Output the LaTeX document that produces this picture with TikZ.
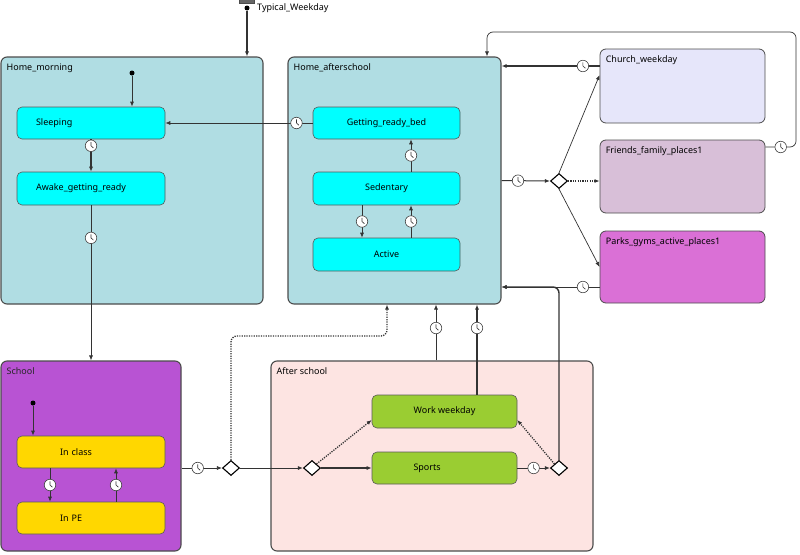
\documentclass[tikz,border=0pt]{standalone}
\usepackage{fontspec}
\setmainfont{Noto Sans}
\usepackage{xcolor}
\usepackage{tikz}
\usetikzlibrary{arrows.meta,positioning}
\usetikzlibrary{shapes.geometric}

\definecolor{homeblue}{HTML}{B0DDE3}
\definecolor{statecyan}{HTML}{00FFFF}
\definecolor{schoolpurple}{HTML}{B853D3}
\definecolor{classgold}{HTML}{FFD700}
\definecolor{afterpink}{HTML}{FDE4E2}
\definecolor{workgreen}{HTML}{9ACD32}
\definecolor{churchlav}{HTML}{E6E6FA}
\definecolor{friendthistle}{HTML}{D8BFD8}
\definecolor{parkorchid}{HTML}{DA70D6}
\definecolor{linegray}{HTML}{333333}

\tikzset{
  region/.style={draw=black!70, line width=1.1pt, rounded corners=6pt, inner sep=0pt},
  regionlabel/.style={anchor=north west, inner sep=0pt, xshift=6pt, yshift=-7pt, font=\fontsize{9}{11}\selectfont},
  state/.style={draw=black!65, line width=0.6pt, rounded corners=5pt, minimum width=148, minimum height=32, inner sep=0pt, font=\fontsize{9}{11}\selectfont},
  clock/.style={circle, draw=black!75, fill=white, line width=0.6pt, minimum size=11.5pt, inner sep=0pt, solid, sharp corners,
    path picture={\draw[-, solid, sharp corners, line width=0.6pt, draw=black!80] ([yshift=3.6pt]path picture bounding box.center) -- (path picture bounding box.center) -- ([xshift=2.4pt,yshift=-2.2pt]path picture bounding box.center);}},
  choice/.style={diamond, draw=black, line width=1.1pt, fill=white, minimum width=17pt, minimum height=15pt, inner sep=0pt},
  initdot/.style={circle, fill=black, minimum size=5pt, inner sep=0pt},
  tr/.style={draw=linegray, line width=0.7pt, -{Latex[length=5pt,width=4pt]}},
  trbold/.style={tr, line width=1.4pt},
  trdot/.style={tr, line width=1.3pt, dash pattern=on 1.2pt off 1.2pt}
}

\begin{document}
\begin{tikzpicture}[x=1pt,y=-1pt]
\useasboundingbox (0,0) rectangle (800,554);

% regions
\node[region, fill=homeblue, minimum width=262, minimum height=247, label={[regionlabel]north west:Home\_morning}] (hmorn) at (132,180.5) {};
\node[region, fill=homeblue, minimum width=213, minimum height=247, label={[regionlabel]north west:Home\_afterschool}] (ha) at (394.5,180.5) {};
\node[region, fill=churchlav, line width=0.8pt, minimum width=165, minimum height=74, label={[regionlabel]north west:Church\_weekday}] (ch) at (682.5,86) {};
\node[region, fill=friendthistle, line width=0.8pt, minimum width=165, minimum height=73, label={[regionlabel]north west:Friends\_family\_places1}] (fr) at (682.5,176.5) {};
\node[region, fill=parkorchid, line width=0.8pt, minimum width=165, minimum height=72, label={[regionlabel]north west:Parks\_gyms\_active\_places1}] (pk) at (682.5,267) {};
\node[region, fill=schoolpurple, minimum width=180, minimum height=190, label={[regionlabel, text=black!85]north west:School}] (sc) at (91,456) {};
\node[region, fill=afterpink, minimum width=322, minimum height=190, label={[regionlabel]north west:After school}] (as) at (432,456) {};

% states
\node[state, fill=statecyan, text width=110pt, align=left] (sl) at (91,123) {Sleeping};
\node[state, fill=statecyan, text width=110pt, align=left, minimum height=33] (aw) at (91,188.5) {Awake\_getting\_ready};
\node[state, fill=statecyan, minimum width=147] (gb) at (386.5,123) {Getting\_ready\_bed};
\node[state, fill=statecyan, minimum width=147, minimum height=33] (se) at (386.5,188.5) {Sedentary};
\node[state, fill=statecyan, minimum width=147, minimum height=33] (ac) at (386.5,254.5) {Active};
\node[state, fill=classgold, text width=62pt, align=left] (ic) at (91,452) {In class};
\node[state, fill=classgold, text width=62pt, align=left] (pe) at (91,518) {In PE};
\node[state, fill=workgreen, minimum width=145, minimum height=33] (wk) at (444.5,411.5) {Work weekday};
\node[state, fill=workgreen, minimum width=145, text width=62pt, align=left] (sp) at (444.5,468) {Sports};

% choices and initial points
\node[choice] (dhome) at (559,181) {};
\node[choice] (dschool) at (231,468) {};
\node[choice] (dafter) at (312,468) {};
\node[choice] (dsports) at (559,468) {};
\node[draw=black!70, fill=black!60, minimum width=15pt, minimum height=4pt, inner sep=0pt] (tbar) at (247,1) {};
\node[initdot] (tdot) at (247,8) {};
\node[anchor=west, inner sep=0pt, font=\fontsize{9}{11}\selectfont] (tlabel) at (257,8) {Typical\_Weekday};
\node[initdot] (hmi) at (132,73) {};
\node[initdot] (sci) at (33,403) {};

% helper points
\coordinate (chout) at ([yshift=20pt]ch.west);
\coordinate (frout) at ([yshift=29.5pt]fr.east);
\coordinate (pkout) at ([yshift=-20pt]pk.west);
\coordinate (loopc) at (796,32);
\coordinate (hain) at ([xshift=92.5pt]ha.north);
\coordinate (dotturn) at (387,336);

% transitions
\draw[trbold] (tdot) -- (tdot |- hmorn.north);
\draw[tr, line width=1pt] (hmi) -- (hmi |- sl.north);
\draw[trbold] (sl.south) -- node[clock, pos=0.2]{} (aw.north);
\draw[tr] (aw.south) -- node[clock, pos=0.21]{} (sc.north);
\draw[tr] (gb.west) -- node[clock, pos=0.11]{} (sl.east);
\draw[tr] ([xshift=24.5pt]se.north) -- node[clock]{} ([xshift=24.5pt]gb.south);
\draw[tr] ([xshift=-24.5pt]se.south) -- node[clock]{} ([xshift=-24.5pt]ac.north);
\draw[tr] ([xshift=24.5pt]ac.north) -- node[clock]{} ([xshift=24.5pt]se.south);

\draw[tr, line width=1pt] (ha.east) -- node[clock, pos=0.34]{} (dhome.west);
\draw[tr] (dhome.north) -- ([yshift=11pt]ch.west);
\draw[trdot] (dhome.east) -- (dhome.east -| fr.west);
\draw[tr] (dhome.south) -- (pk.west);
\draw[trbold] (chout) -- node[clock, pos=0.17]{} (ha.east |- chout);
\draw[tr, rounded corners=6pt] (frout) -- node[clock]{} (frout -| loopc) -- (loopc) -- (loopc -| hain) -- (hain);
\draw[tr] (pkout) -- node[clock, pos=0.17]{} (ha.east |- pkout);
\draw[trbold, rounded corners=6pt] (dsports.north) -- (dsports |- pkout) -- (ha.east |- pkout);

\draw[tr, line width=1pt] (sci) -- (sci |- ic.north);
\draw[tr] ([xshift=-41pt]ic.south) -- node[clock]{} ([xshift=-41pt]pe.north);
\draw[tr] ([xshift=25pt]pe.north) -- node[clock]{} ([xshift=25pt]ic.south);
\draw[tr] (sc.east |- dschool) -- node[clock, pos=0.4]{} (dschool.west);
\draw[trdot, rounded corners=6pt] (dschool.north) -- (dschool |- dotturn) -- (dotturn) -- (dotturn |- ha.south);
\draw[tr, line width=1pt] (dschool.east) -- (dafter.west);
\draw[trdot] (dafter.north east) -- ([yshift=-8.5pt]wk.west);
\draw[trbold] (dafter.east) -- (sp.west);
\draw[tr, line width=1pt] (sp.east) -- node[clock]{} (dsports.west);
\draw[trdot] (dsports.north west) -- ([yshift=-8.5pt]wk.east);
\draw[trbold] ([xshift=32.5pt]wk.north) -- node[clock, pos=0.74]{} ([xshift=32.5pt]wk.north |- ha.south);
\draw[tr] ([xshift=4pt]as.north) -- node[clock, pos=0.58]{} ([xshift=4pt]as.north |- ha.south);
\end{tikzpicture}
\end{document}
